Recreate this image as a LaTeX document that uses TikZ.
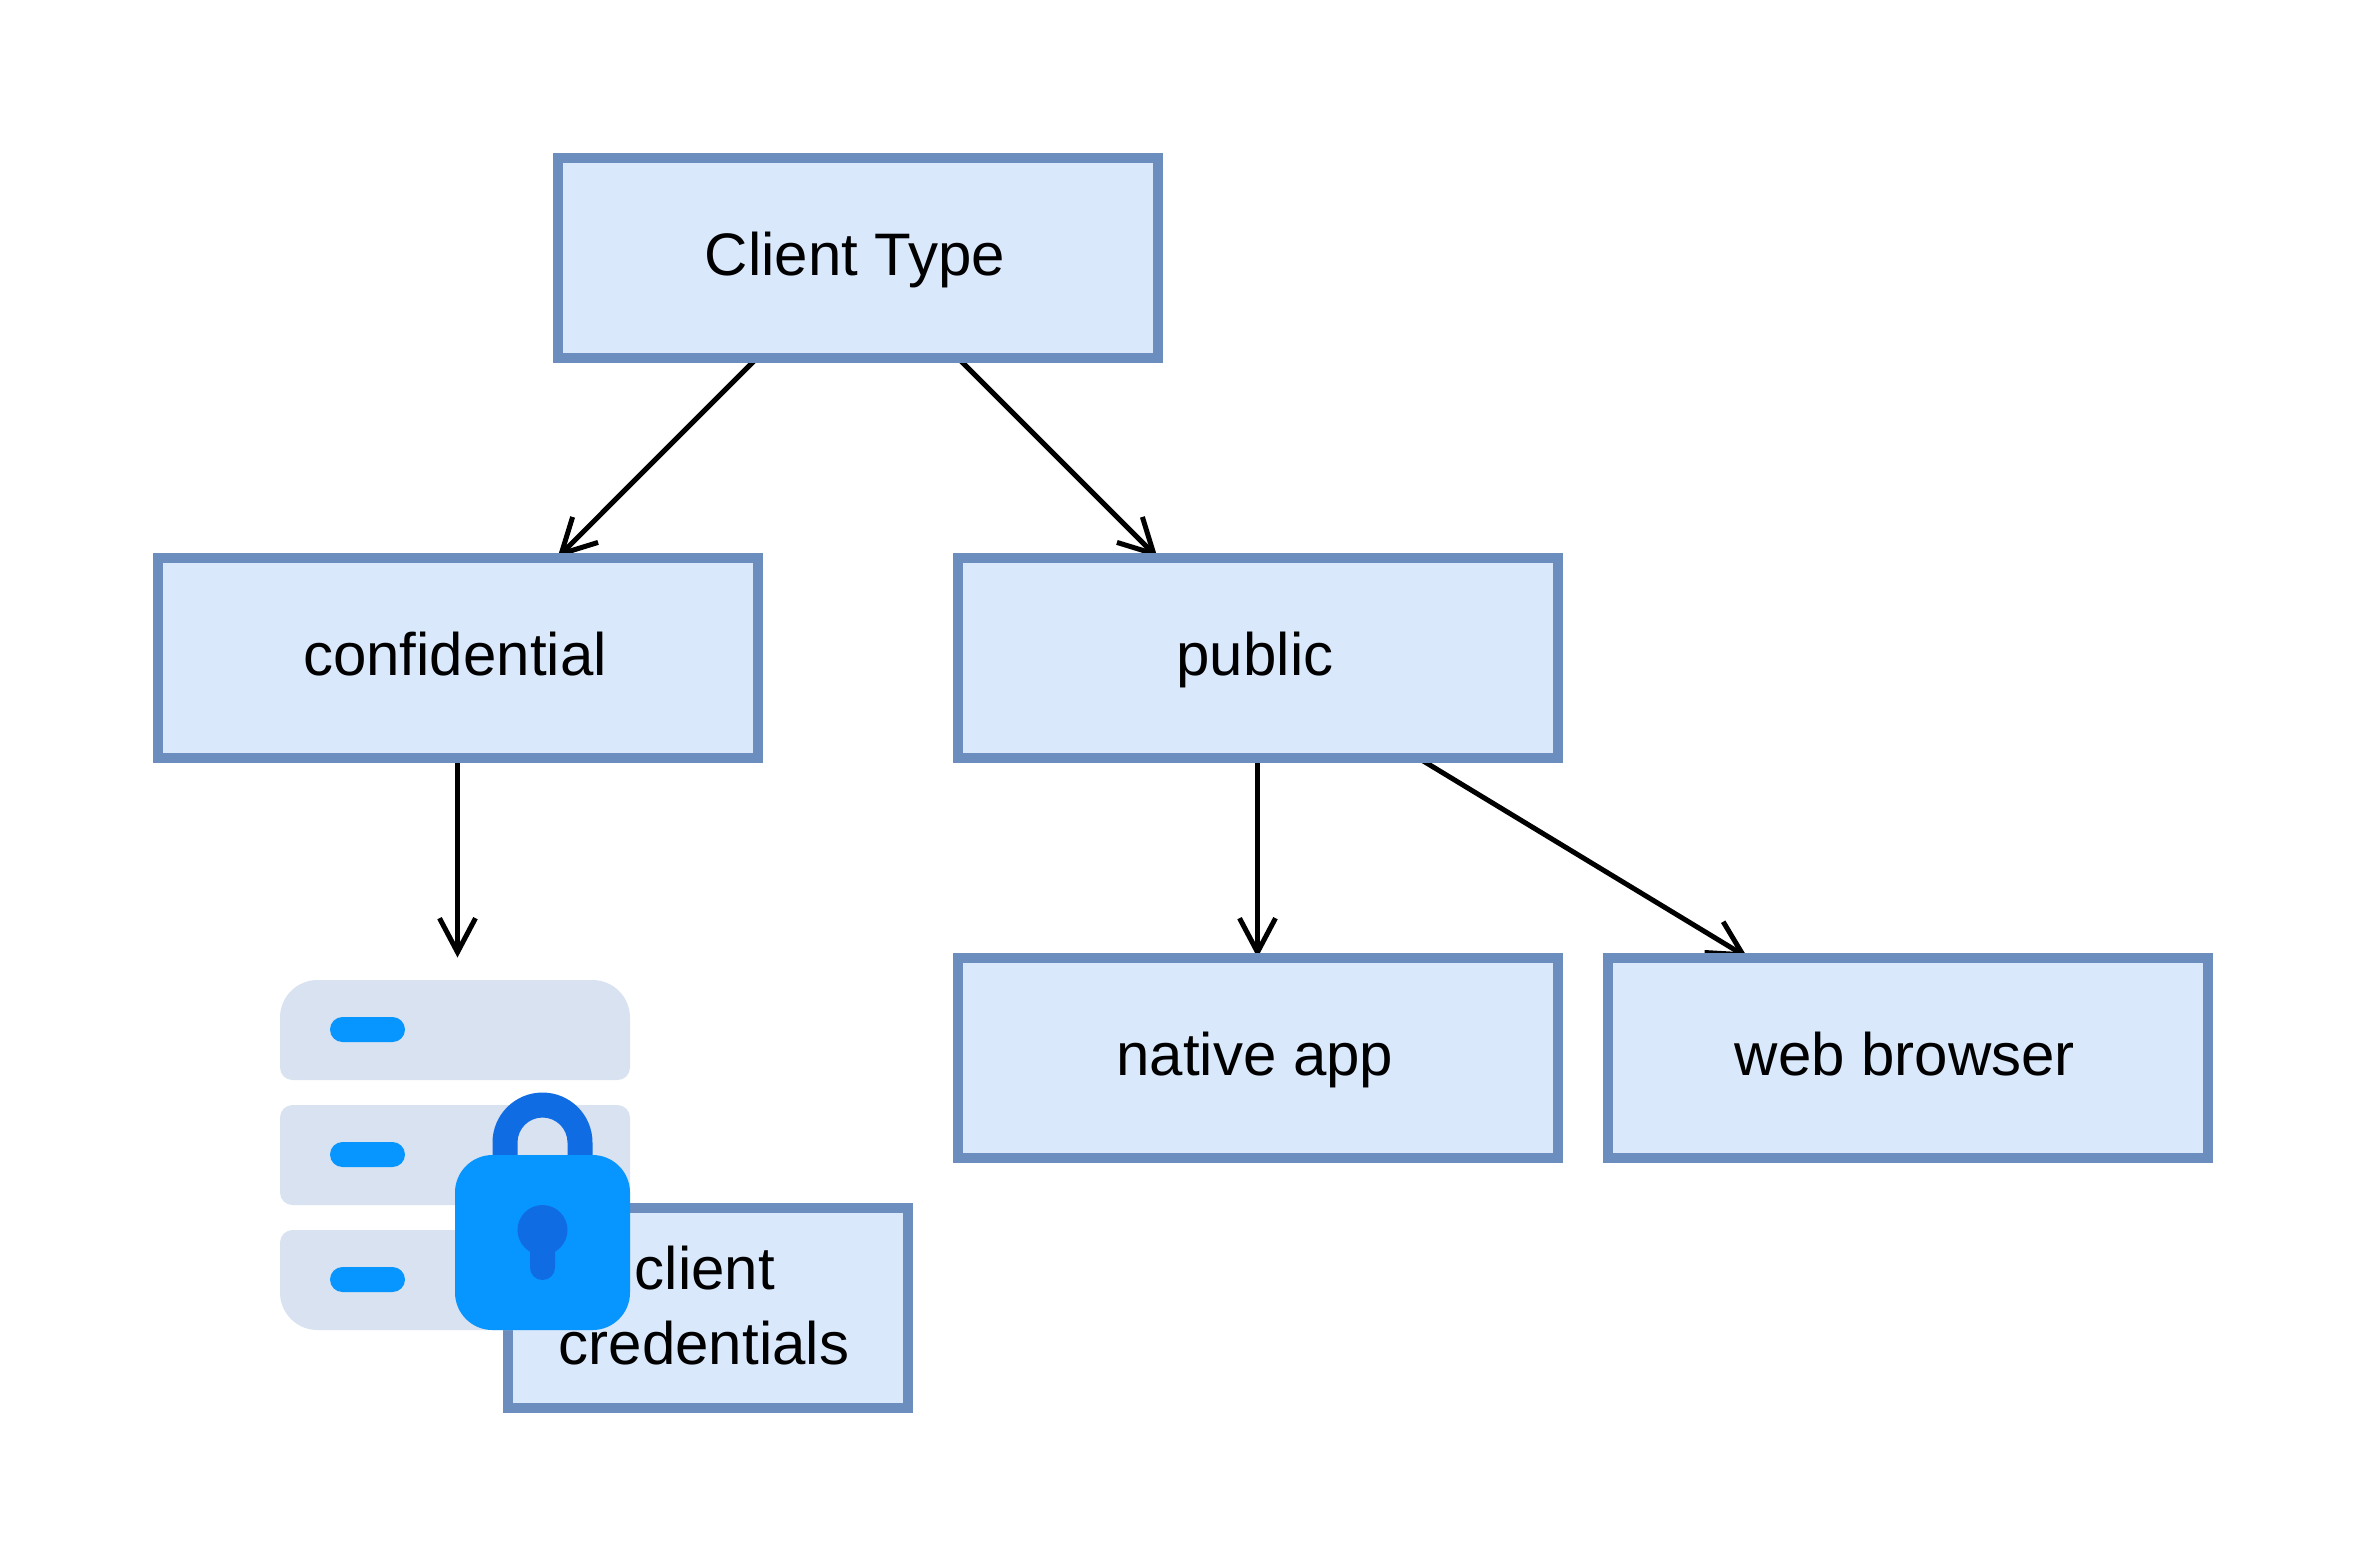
\documentclass[tikz,border=0pt]{standalone}
\usepackage{fontspec}
\setmainfont{Liberation Sans}
\usepackage{xcolor}
\usetikzlibrary{arrows.meta,backgrounds,calc}
\definecolor{boxfill}{HTML}{DAE8FC}
\definecolor{boxline}{HTML}{6C8EBF}
\definecolor{rowgray}{HTML}{D9E2F0}
\definecolor{lockblue}{HTML}{0795FF}
\definecolor{lockdark}{HTML}{0F6CE3}
\newcommand{\nudge}{\hspace*{-2.5pt}}

\begin{document}
\begin{tikzpicture}[
          x=0.5pt, y=-0.5pt,
          box/.style={draw=boxline, line width=5pt, fill=boxfill, outer sep=0pt, inner sep=0pt, minimum width=300pt, minimum height=100pt, align=center, text height=22pt, text depth=4.5pt, font=\fontsize{30}{37.5}\selectfont, execute at begin node=\nudge},
          link/.style={line width=2.5pt, -{Straight Barb[length=17pt,width=18pt,line width=2.5pt]}}
      ]
        \useasboundingbox (0,0) rectangle (2360,1560);
        \node[box] (clienttype) at (857.5,257.5) {Client Type};
        \node[box] (confidential) at (457.5,657.5) {confidential};
        \node[box] (public) at (1257.5,657.5) {public};
        \node[box] (nativeapp) at (1257.5,1057.5) {native app};
        \node[box] (webbrowser) at (1907.5,1057.5) {web browser};
        \node[box, minimum width=200pt, text height=56.5pt, text depth=0pt] (credentials) at (707.5,1307.5) {client\\\hspace*{-1pt}credentials};
        \coordinate (icontop) at (457.5,957.5);
        % arrows go under the boxes
        \begin{scope}[on background layer]
          \draw[link] ($(clienttype.south west)!0.3333!(clienttype.south east)$) -- ($(confidential.north west)!0.6667!(confidential.north east)$);
          \draw[link] ($(clienttype.south west)!0.6667!(clienttype.south east)$) -- ($(public.north west)!0.3333!(public.north east)$);
          \draw[link] (confidential.south) -- (icontop);
          \draw[link] (public.south) -- (nativeapp.north);
          \draw[link] ($(public.south west)!0.7667!(public.south east)$) -- ($(webbrowser.north west)!0.2333!(webbrowser.north east)$);
        \end{scope}
        % server rows
        \fill[rowgray] (280,1030) [rounded corners=18.75pt] -- (280,980) -- (630,980) [rounded corners=6.25pt] -- (630,1080) -- (280,1080) -- (280,1030);
        \fill[rowgray, rounded corners=6.25pt] (280,1105) rectangle (630,1205);
        \fill[rowgray] (630,1280) [rounded corners=6.25pt] -- (630,1230) -- (280,1230) [rounded corners=18.75pt] -- (280,1330) -- (630,1330) -- (630,1280);
        \foreach \y in {1017,1142,1267}
          \fill[lockblue, rounded corners=6.25pt] (330,\y) rectangle (405,\y+25);
        % padlock
        \fill[lockdark] (492.5,1155) -- (492.5,1142.5) arc[start angle=180, end angle=0, radius=25pt] -- (592.5,1155) -- (567.5,1155) -- (567.5,1142.5) arc[start angle=0, end angle=180, radius=12.5pt] -- (517.5,1155) -- cycle;
        \fill[lockblue, rounded corners=18.75pt] (455,1155) rectangle (630,1330);
        \fill[lockdark] (542.5,1230) circle[radius=12.5pt];
        \fill[lockdark, rounded corners=6.2pt] (530,1235) rectangle (555,1280);
      \end{tikzpicture}
\end{document}
